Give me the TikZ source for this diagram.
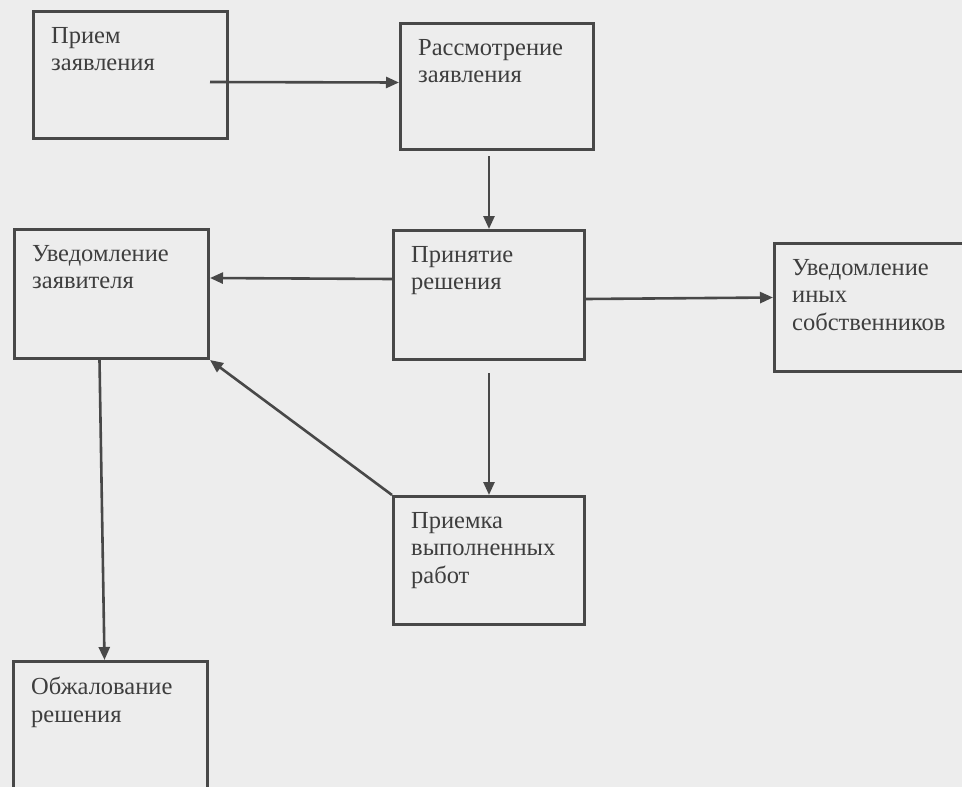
\documentclass[tikz,border=0pt]{standalone}
\usepackage{fontspec}
\setmainfont{Liberation Serif}
\newfontfamily\boxfont{Liberation Serif}
\usetikzlibrary{arrows.meta}

\definecolor{paperclr}{RGB}{237,237,237}
\definecolor{lineclr}{RGB}{72,72,72}
\definecolor{textclr}{RGB}{62,62,62}

\begin{document}
\begin{tikzpicture}[x=1pt, y=-1pt,
    blk/.style={draw=lineclr, line width=3pt, anchor=north west, inner sep=0pt},
    txt/.style={anchor=north west, align=left, inner sep=0pt, text=textclr,
                font=\boxfont\fontsize{24.5}{27.5}\selectfont, xshift=19pt, yshift=-17pt},
    conn/.style={draw=lineclr, line width=2.6pt, -{Triangle[length=13pt,width=11pt]}}]
  \fill[paperclr] (0,0) rectangle (962,787);
  \useasboundingbox (0,0) rectangle (962,787);
  \clip (0,0) rectangle (962,787);

  % blocks
  \node[blk, minimum width=194pt, minimum height=127pt,
        label={[txt]north west:Прием\\заявления}] (priem) at (32,10) {};
  \node[blk, minimum width=193pt, minimum height=126pt,
        label={[txt]north west:Рассмотрение\\заявления}] (rassm) at (399,22) {};
  \node[blk, minimum width=194pt, minimum height=129pt,
        label={[txt]north west:Уведомление\\заявителя}] (uved) at (13,228) {};
  \node[blk, minimum width=191pt, minimum height=129pt,
        label={[txt]north west:Принятие\\решения}] (prinyat) at (392,229) {};
  \node[blk, minimum width=192pt, minimum height=128pt,
        label={[txt]north west:Уведомление\\иных\\собственников}] (inyh) at (773,242) {};
  \node[blk, minimum width=191pt, minimum height=128pt,
        label={[txt]north west:Приемка\\выполненных\\работ}] (priemka) at (392,495) {};
  \node[blk, minimum width=194pt, minimum height=150pt,
        label={[txt]north west:Обжалование\\решения}] (obzh) at (12,660) {};

  % connectors
  \draw[conn] ([xshift=-19pt, yshift=-7pt]priem.east) -- ([yshift=4pt]rassm.west);
  \draw[conn] ([yshift=-5pt]rassm.south -| prinyat.north) -- (prinyat.north);
  \draw[conn] ([yshift=16pt]prinyat.west) -- ([yshift=16pt]uved.east);
  \draw[conn] ([yshift=-4pt]prinyat.east) -- ([yshift=10pt]inyh.west);
  \draw[conn] ([yshift=-12pt]prinyat.south) -- (priemka.north);
  \draw[conn] (priemka.north west) -- (uved.south east);
  \draw[conn] ([xshift=-12pt]uved.south) -- ([xshift=-6pt]obzh.north);
\end{tikzpicture}
\end{document}
